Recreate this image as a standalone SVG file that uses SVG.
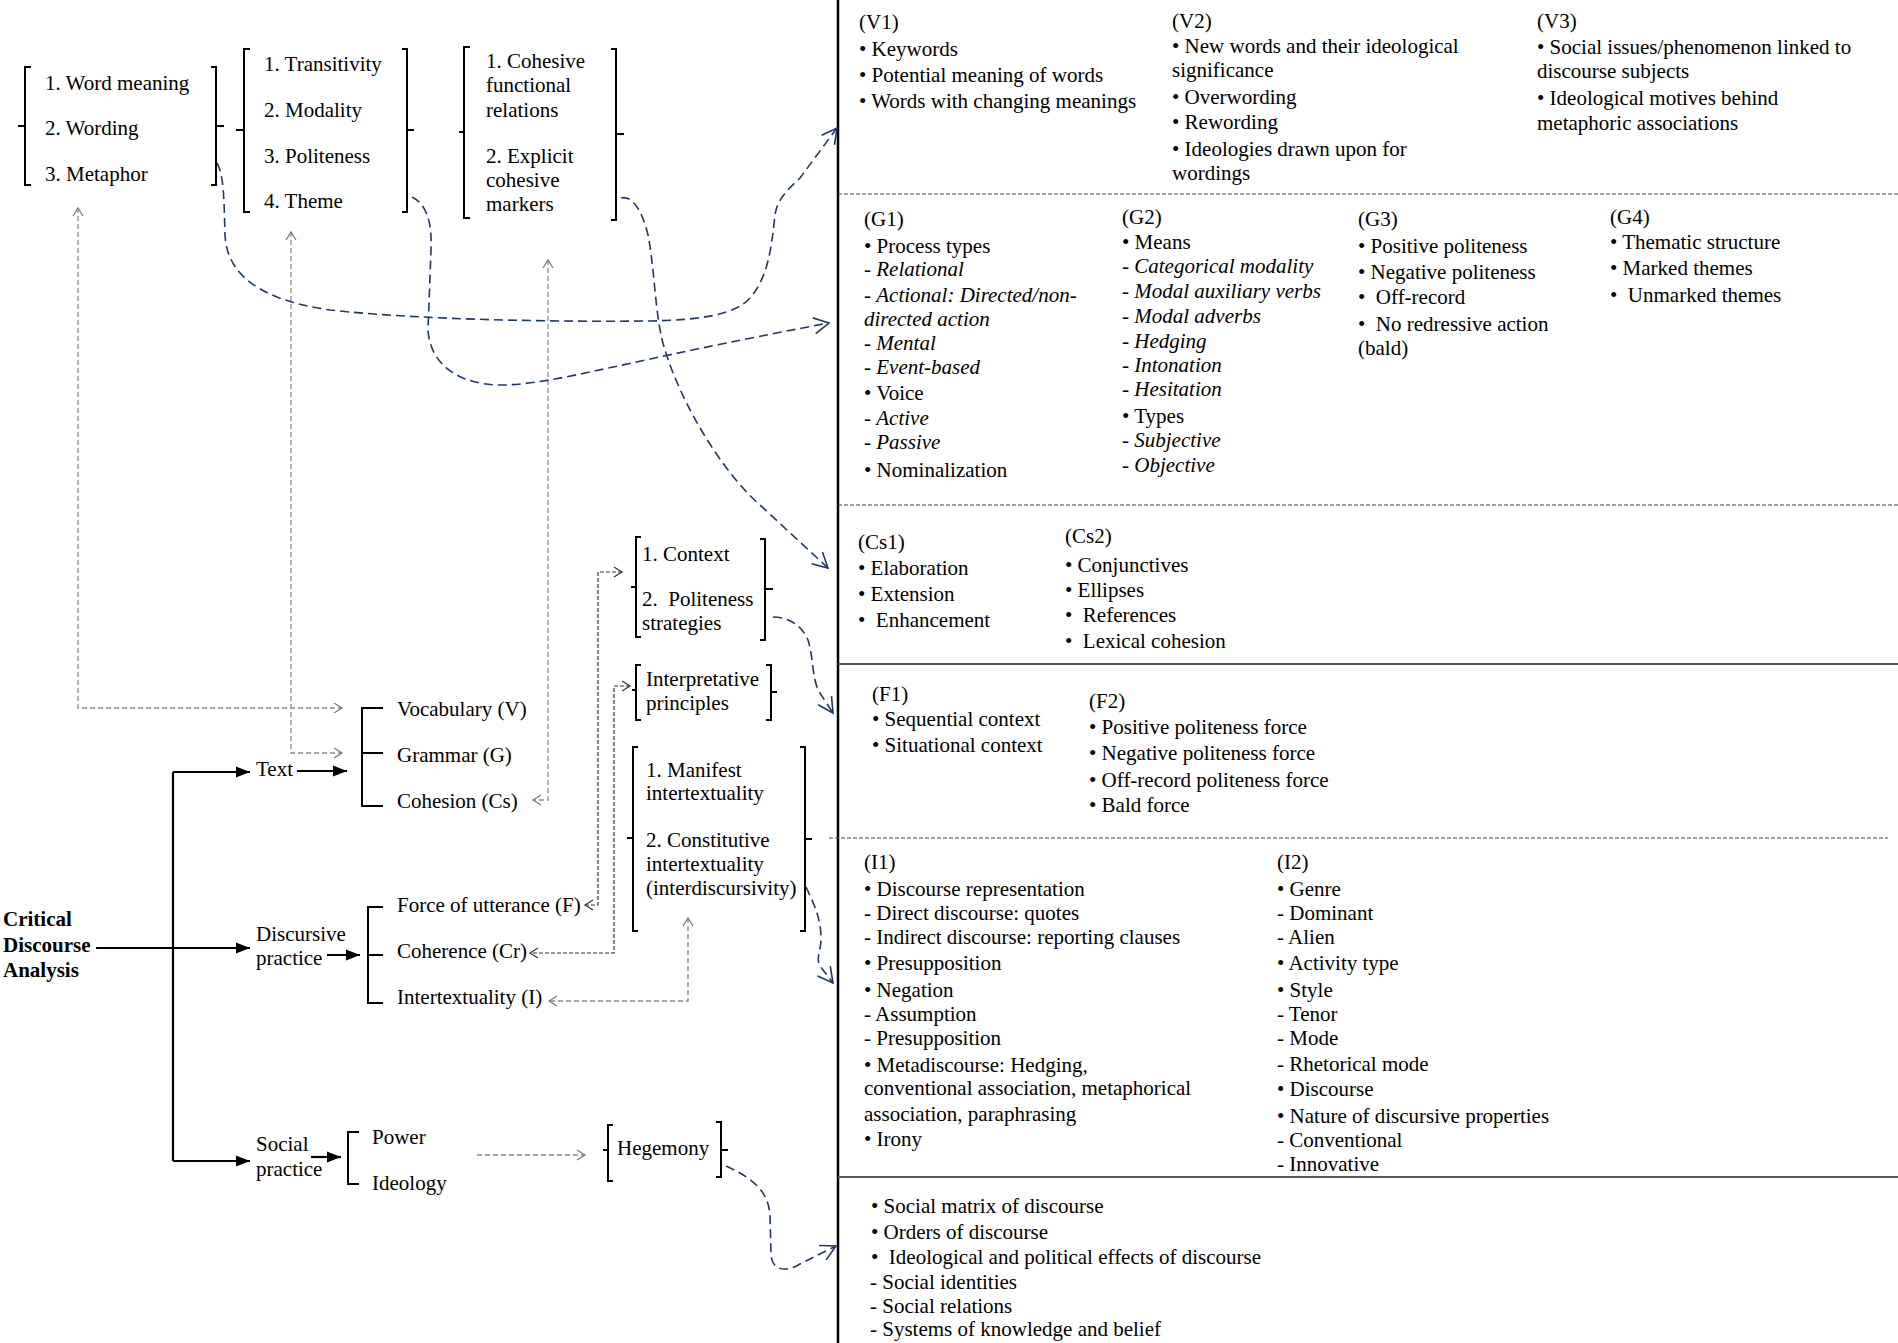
<svg xmlns="http://www.w3.org/2000/svg" width="1898" height="1343" viewBox="0 0 1898 1343">
<style>
.t{font-family:"Liberation Serif","Times New Roman",serif;font-size:21px;fill:#000;white-space:pre}
.b{font-weight:bold}
.i{font-style:italic}
.br{fill:none;stroke:#000;stroke-width:2}
.ln{fill:none;stroke:#000;stroke-width:2.2}
.nav{fill:none;stroke:#1F3864;stroke-width:1.6;stroke-dasharray:9 5}
.gr{fill:none;stroke:#8a8a8a;stroke-width:1.3;stroke-dasharray:5 3}
.dk{fill:none;stroke:#333;stroke-width:1.2;stroke-dasharray:4 2}
.sd{fill:none;stroke:#444;stroke-width:1.2;stroke-dasharray:4 2}
.ss{fill:none;stroke:#555;stroke-width:2}
</style>
<defs>
<marker id="aN" viewBox="-18 -10 20 20" refX="0" refY="0" markerWidth="20" markerHeight="20" markerUnits="userSpaceOnUse" orient="auto"><path d="M-15,-8 L0,0 L-15,8" fill="none" stroke="#1F3864" stroke-width="1.6"/></marker>
<marker id="aG" viewBox="-10 -7 12 14" refX="0" refY="0" markerWidth="12" markerHeight="14" markerUnits="userSpaceOnUse" orient="auto-start-reverse"><path d="M-8,-5 L0,0 L-8,5" fill="none" stroke="#777" stroke-width="1.2"/></marker>
<marker id="aD" viewBox="-10 -7 12 14" refX="0" refY="0" markerWidth="12" markerHeight="14" markerUnits="userSpaceOnUse" orient="auto-start-reverse"><path d="M-8,-5 L0,0 L-8,5" fill="none" stroke="#333" stroke-width="1.2"/></marker>
<marker id="aB" viewBox="-15 -7 16 14" refX="0" refY="0" markerWidth="16" markerHeight="14" markerUnits="userSpaceOnUse" orient="auto"><path d="M-14,-5.5 L0,0 L-14,5.5 Z" fill="#000"/></marker>
</defs>
<rect width="1898" height="1343" fill="#fff"/>

<g id="panel-frame">
<path class="ln" d="M838,0 L838,1343" style="stroke-width:2.5"/>
<path class="sd" d="M838,194 L1898,194"/>
<path class="sd" d="M838,505 L1898,505"/>
<path class="ss" d="M838,664 L1898,664"/>
<path class="sd" d="M829,838 L1888,838"/>
<path class="ss" d="M838,1177 L1898,1177"/>
</g>

<g id="connectors">
<path class="ln" d="M173,772 L173,1161"/>
<path class="ln" d="M173,772 L250,772" marker-end="url(#aB)"/>
<path class="ln" d="M96,948 L250,948" marker-end="url(#aB)"/>
<path class="ln" d="M173,1161 L250,1161" marker-end="url(#aB)"/>
<path class="ln" d="M297,771 L347,771" marker-end="url(#aB)"/>
<path class="ln" d="M327,955 L360,955" marker-end="url(#aB)"/>
<path class="ln" d="M311,1157 L341,1157" marker-end="url(#aB)"/>
<path class="gr" d="M78,208 L78,708 L342,708" marker-start="url(#aG)" marker-end="url(#aG)"/>
<path class="gr" d="M291,232 L291,753 L342,753" marker-start="url(#aG)" marker-end="url(#aG)"/>
<path class="gr" d="M548,260 L548,800 L533,800" marker-start="url(#aG)" marker-end="url(#aG)"/>
<path class="gr" d="M688,918 L688,1001 L549,1001" marker-start="url(#aG)" marker-end="url(#aG)"/>
<path class="gr" d="M477,1155 L585,1155" marker-end="url(#aG)"/>
<path class="dk" d="M622,572 L598,572 L598,905 L585,905" marker-start="url(#aD)" marker-end="url(#aD)"/>
<path class="dk" d="M630,686 L614,686 L614,953 L530,953" marker-start="url(#aD)" marker-end="url(#aD)"/>
<path class="nav" d="M217,163 C224,175 224,200 225,235 C227,275 260,300 330,310 C420,320 560,322 650,321 C700,320 735,315 750,298 C770,275 772,240 775,215 C777,200 787,190 800,178 L837,128" marker-end="url(#aN)"/>
<path class="nav" d="M412,197 C428,205 432,225 431,250 L428,330 C430,365 460,386 505,385 C560,383 620,362 829,323" marker-end="url(#aN)"/>
<path class="nav" d="M621,198 C632,195 642,210 648,235 C655,270 655,320 665,350 C680,400 720,470 760,505 L828,568" marker-end="url(#aN)"/>
<path class="nav" d="M773,617 C790,617 803,627 808,640 C813,655 812,675 818,690 L833,713" marker-end="url(#aN)"/>
<path class="nav" d="M806,887 C812,900 820,915 821,935 C822,950 815,958 820,966 L833,983" marker-end="url(#aN)"/>
<path class="nav" d="M726,1166 C752,1178 768,1190 770,1215 L771,1255 C772,1270 785,1273 800,1264 L836,1246" marker-end="url(#aN)"/>
</g>

<g id="n-cda">
<text class="t b" x="3" y="926">Critical</text>
<text class="t b" x="3" y="952">Discourse</text>
<text class="t b" x="3" y="977">Analysis</text>
</g>
<g id="n-text"><text class="t" x="256" y="776">Text</text></g>
<g id="n-discursive"><text class="t" x="256" y="941">Discursive</text><text class="t" x="256" y="965">practice</text></g>
<g id="n-social"><text class="t" x="256" y="1151">Social</text><text class="t" x="256" y="1176">practice</text></g>

<g id="n-text-items">
<path class="br" d="M383,708 L362,708 L362,806 L383,806 M362,753 L383,753"/>
<text class="t" x="397" y="716">Vocabulary (V)</text>
<text class="t" x="397" y="762">Grammar (G)</text>
<text class="t" x="397" y="808">Cohesion (Cs)</text>
</g>
<g id="n-discursive-items">
<path class="br" d="M383,907 L368,907 L368,1003 L383,1003 M368,955 L383,955"/>
<text class="t" x="397" y="912">Force of utterance (F)</text>
<text class="t" x="397" y="958">Coherence (Cr)</text>
<text class="t" x="397" y="1004">Intertextuality (I)</text>
</g>
<g id="n-social-items">
<path class="br" d="M359,1132 L348,1132 L348,1184 L359,1184"/>
<text class="t" x="372" y="1144">Power</text>
<text class="t" x="372" y="1190">Ideology</text>
</g>

<g id="n-vocab-sub">
<path class="br" d="M31,67 L25,67 L25,185 L31,185 M25,126 L18,126 M211,67 L216,67 L216,185 L211,185 M216,126 L224,126"/>
<text class="t" x="45" y="90">1. Word meaning</text>
<text class="t" x="45" y="135">2. Wording</text>
<text class="t" x="45" y="181">3. Metaphor</text>
</g>
<g id="n-grammar-sub">
<path class="br" d="M250,49 L244,49 L244,212 L250,212 M244,130 L236,130 M402,49 L407,49 L407,212 L402,212 M407,130 L414,130"/>
<text class="t" x="264" y="71">1. Transitivity</text>
<text class="t" x="264" y="117">2. Modality</text>
<text class="t" x="264" y="163">3. Politeness</text>
<text class="t" x="264" y="208">4. Theme</text>
</g>
<g id="n-cohesion-sub">
<path class="br" d="M470,47 L464,47 L464,218 L470,218 M464,132 L459,132 M611,49 L616,49 L616,220 L611,220 M616,134 L624,134"/>
<text class="t" x="486" y="68">1. Cohesive</text>
<text class="t" x="486" y="92">functional</text>
<text class="t" x="486" y="117">relations</text>
<text class="t" x="486" y="163">2. Explicit</text>
<text class="t" x="486" y="187">cohesive</text>
<text class="t" x="486" y="211">markers</text>
</g>
<g id="n-force-sub">
<path class="br" d="M641,537 L636,537 L636,637 L641,637 M636,587 L631,587 M760,539 L765,539 L765,640 L760,640 M765,589 L773,589"/>
<text class="t" x="642" y="561">1. Context</text>
<text class="t" x="642" y="606">2.  Politeness</text>
<text class="t" x="642" y="630">strategies</text>
</g>
<g id="n-coherence-sub">
<path class="br" d="M641,665 L636,665 L636,720 L641,720 M636,690 L632,690 M766,665 L771,665 L771,720 L766,720 M771,692 L777,692"/>
<text class="t" x="646" y="686">Interpretative</text>
<text class="t" x="646" y="710">principles</text>
</g>
<g id="n-intertext-sub">
<path class="br" d="M638,747 L633,747 L633,931 L638,931 M633,838 L627,838 M800,747 L805,747 L805,931 L800,931 M805,839 L812,839"/>
<text class="t" x="646" y="777">1. Manifest</text>
<text class="t" x="646" y="800">intertextuality</text>
<text class="t" x="646" y="847">2. Constitutive</text>
<text class="t" x="646" y="871">intertextuality</text>
<text class="t" x="646" y="895">(interdiscursivity)</text>
</g>
<g id="n-hegemony">
<path class="br" d="M613,1125 L608,1125 L608,1181 L613,1181 M608,1150 L603,1150 M716,1122 L721,1122 L721,1177 L716,1177 M721,1150 L728,1150"/>
<text class="t" x="617" y="1155">Hegemony</text>
</g>

<g id="panel-v">
<text class="t" x="859" y="29">(V1)</text>
<text class="t" x="859" y="56">• Keywords</text>
<text class="t" x="859" y="82">• Potential meaning of words</text>
<text class="t" x="859" y="108">• Words with changing meanings</text>
<text class="t" x="1172" y="28">(V2)</text>
<text class="t" x="1172" y="53">• New words and their ideological</text>
<text class="t" x="1172" y="77">significance</text>
<text class="t" x="1172" y="104">• Overwording</text>
<text class="t" x="1172" y="129">• Rewording</text>
<text class="t" x="1172" y="156">• Ideologies drawn upon for</text>
<text class="t" x="1172" y="180">wordings</text>
<text class="t" x="1537" y="28">(V3)</text>
<text class="t" x="1537" y="54">• Social issues/phenomenon linked to</text>
<text class="t" x="1537" y="78">discourse subjects</text>
<text class="t" x="1537" y="105">• Ideological motives behind</text>
<text class="t" x="1537" y="130">metaphoric associations</text>
</g>

<g id="panel-g">
<text class="t" x="864" y="226">(G1)</text>
<text class="t" x="864" y="253">• Process types</text>
<text class="t" x="864" y="276">- <tspan class="i">Relational</tspan></text>
<text class="t" x="864" y="302">- <tspan class="i">Actional: Directed/non-</tspan></text>
<text class="t i" x="864" y="326">directed action</text>
<text class="t" x="864" y="350">- <tspan class="i">Mental</tspan></text>
<text class="t" x="864" y="374">- <tspan class="i">Event-based</tspan></text>
<text class="t" x="864" y="400">• Voice</text>
<text class="t" x="864" y="425">- <tspan class="i">Active</tspan></text>
<text class="t" x="864" y="449">- <tspan class="i">Passive</tspan></text>
<text class="t" x="864" y="477">• Nominalization</text>
<text class="t" x="1122" y="224">(G2)</text>
<text class="t" x="1122" y="249">• Means</text>
<text class="t" x="1122" y="273">- <tspan class="i">Categorical modality</tspan></text>
<text class="t" x="1122" y="298">- <tspan class="i">Modal auxiliary verbs</tspan></text>
<text class="t" x="1122" y="323">- <tspan class="i">Modal adverbs</tspan></text>
<text class="t" x="1122" y="348">- <tspan class="i">Hedging</tspan></text>
<text class="t" x="1122" y="372">- <tspan class="i">Intonation</tspan></text>
<text class="t" x="1122" y="396">- <tspan class="i">Hesitation</tspan></text>
<text class="t" x="1122" y="423">• Types</text>
<text class="t" x="1122" y="447">- <tspan class="i">Subjective</tspan></text>
<text class="t" x="1122" y="472">- <tspan class="i">Objective</tspan></text>
<text class="t" x="1358" y="226">(G3)</text>
<text class="t" x="1358" y="253">• Positive politeness</text>
<text class="t" x="1358" y="279">• Negative politeness</text>
<text class="t" x="1358" y="304">•  Off-record</text>
<text class="t" x="1358" y="331">•  No redressive action</text>
<text class="t" x="1358" y="355">(bald)</text>
<text class="t" x="1610" y="224">(G4)</text>
<text class="t" x="1610" y="249">• Thematic structure</text>
<text class="t" x="1610" y="275">• Marked themes</text>
<text class="t" x="1610" y="302">•  Unmarked themes</text>
</g>

<g id="panel-cs">
<text class="t" x="858" y="549">(Cs1)</text>
<text class="t" x="858" y="575">• Elaboration</text>
<text class="t" x="858" y="601">• Extension</text>
<text class="t" x="858" y="627">•  Enhancement</text>
<text class="t" x="1065" y="543">(Cs2)</text>
<text class="t" x="1065" y="572">• Conjunctives</text>
<text class="t" x="1065" y="597">• Ellipses</text>
<text class="t" x="1065" y="622">•  References</text>
<text class="t" x="1065" y="648">•  Lexical cohesion</text>
</g>

<g id="panel-f">
<text class="t" x="872" y="701">(F1)</text>
<text class="t" x="872" y="726">• Sequential context</text>
<text class="t" x="872" y="752">• Situational context</text>
<text class="t" x="1089" y="708">(F2)</text>
<text class="t" x="1089" y="734">• Positive politeness force</text>
<text class="t" x="1089" y="760">• Negative politeness force</text>
<text class="t" x="1089" y="787">• Off-record politeness force</text>
<text class="t" x="1089" y="812">• Bald force</text>
</g>

<g id="panel-i">
<text class="t" x="864" y="869">(I1)</text>
<text class="t" x="864" y="896">• Discourse representation</text>
<text class="t" x="864" y="920">- Direct discourse: quotes</text>
<text class="t" x="864" y="944">- Indirect discourse: reporting clauses</text>
<text class="t" x="864" y="970">• Presupposition</text>
<text class="t" x="864" y="997">• Negation</text>
<text class="t" x="864" y="1021">- Assumption</text>
<text class="t" x="864" y="1045">- Presupposition</text>
<text class="t" x="864" y="1072">• Metadiscourse: Hedging,</text>
<text class="t" x="864" y="1095">conventional association, metaphorical</text>
<text class="t" x="864" y="1121">association, paraphrasing</text>
<text class="t" x="864" y="1146">• Irony</text>
<text class="t" x="1277" y="869">(I2)</text>
<text class="t" x="1277" y="896">• Genre</text>
<text class="t" x="1277" y="920">- Dominant</text>
<text class="t" x="1277" y="944">- Alien</text>
<text class="t" x="1277" y="970">• Activity type</text>
<text class="t" x="1277" y="997">• Style</text>
<text class="t" x="1277" y="1021">- Tenor</text>
<text class="t" x="1277" y="1045">- Mode</text>
<text class="t" x="1277" y="1071">- Rhetorical mode</text>
<text class="t" x="1277" y="1096">• Discourse</text>
<text class="t" x="1277" y="1123">• Nature of discursive properties</text>
<text class="t" x="1277" y="1147">- Conventional</text>
<text class="t" x="1277" y="1171">- Innovative</text>
</g>

<g id="panel-social">
<text class="t" x="871" y="1213">• Social matrix of discourse</text>
<text class="t" x="871" y="1239">• Orders of discourse</text>
<text class="t" x="871" y="1264">•  Ideological and political effects of discourse</text>
<text class="t" x="870" y="1289">- Social identities</text>
<text class="t" x="870" y="1313">- Social relations</text>
<text class="t" x="870" y="1336">- Systems of knowledge and belief</text>
</g>
</svg>
